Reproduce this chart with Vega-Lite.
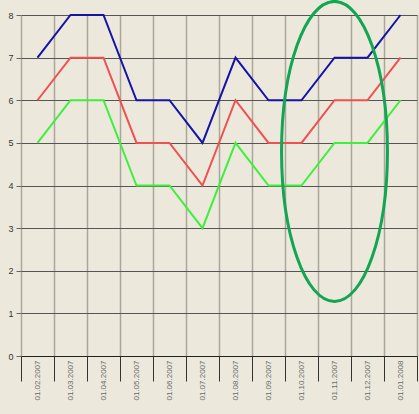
{
"$schema": "https://vega.github.io/schema/vega-lite/v6.json",
"width": 396,
"height": 341,
"autosize": {"type": "none"},
"padding": {"left": 21, "top": 15, "right": 2, "bottom": 58},
"background": "#ECE9DC",
"config": {"view": {"stroke": null}, "font": "Liberation Sans"},
"layer": [
{
"data": {"values": [
{"date": "01.02.2007", "series": "blue", "value": 7},
{"date": "01.03.2007", "series": "blue", "value": 8},
{"date": "01.04.2007", "series": "blue", "value": 8},
{"date": "01.05.2007", "series": "blue", "value": 6},
{"date": "01.06.2007", "series": "blue", "value": 6},
{"date": "01.07.2007", "series": "blue", "value": 5},
{"date": "01.08.2007", "series": "blue", "value": 7},
{"date": "01.09.2007", "series": "blue", "value": 6},
{"date": "01.10.2007", "series": "blue", "value": 6},
{"date": "01.11.2007", "series": "blue", "value": 7},
{"date": "01.12.2007", "series": "blue", "value": 7},
{"date": "01.01.2008", "series": "blue", "value": 8},
{"date": "01.02.2007", "series": "red", "value": 6},
{"date": "01.03.2007", "series": "red", "value": 7},
{"date": "01.04.2007", "series": "red", "value": 7},
{"date": "01.05.2007", "series": "red", "value": 5},
{"date": "01.06.2007", "series": "red", "value": 5},
{"date": "01.07.2007", "series": "red", "value": 4},
{"date": "01.08.2007", "series": "red", "value": 6},
{"date": "01.09.2007", "series": "red", "value": 5},
{"date": "01.10.2007", "series": "red", "value": 5},
{"date": "01.11.2007", "series": "red", "value": 6},
{"date": "01.12.2007", "series": "red", "value": 6},
{"date": "01.01.2008", "series": "red", "value": 7},
{"date": "01.02.2007", "series": "green", "value": 5},
{"date": "01.03.2007", "series": "green", "value": 6},
{"date": "01.04.2007", "series": "green", "value": 6},
{"date": "01.05.2007", "series": "green", "value": 4},
{"date": "01.06.2007", "series": "green", "value": 4},
{"date": "01.07.2007", "series": "green", "value": 3},
{"date": "01.08.2007", "series": "green", "value": 5},
{"date": "01.09.2007", "series": "green", "value": 4},
{"date": "01.10.2007", "series": "green", "value": 4},
{"date": "01.11.2007", "series": "green", "value": 5},
{"date": "01.12.2007", "series": "green", "value": 5},
{"date": "01.01.2008", "series": "green", "value": 6}
]},
"mark": {"type": "line", "strokeWidth": 2},
"encoding": {
"x": {"field": "date", "type": "ordinal",
"sort": ["01.02.2007","01.03.2007","01.04.2007","01.05.2007","01.06.2007","01.07.2007","01.08.2007","01.09.2007","01.10.2007","01.11.2007","01.12.2007","01.01.2008"],
"scale": {"paddingInner": 0, "paddingOuter": 0},
"axis": {"title": null, "tickBand": "extent", "grid": true, "gridColor": "#aaa69c", "gridWidth": 1.5, "tickSize": 25, "tickColor": "#333333", "labelAngle": 270, "labelPadding": -21, "labelFontSize": 8, "labelColor": "#6a6a6a", "labelFont": "Liberation Sans", "domainColor": "#222222"}},
"y": {"field": "value", "type": "quantitative",
"scale": {"domain": [0, 8], "nice": false},
"axis": {"title": null, "values": [0,1,2,3,4,5,6,7,8], "grid": true, "gridColor": "#555555", "tickSize": 5, "tickColor": "#666666", "labelPadding": 3, "labelFontSize": 9, "labelColor": "#333333", "labelFont": "Liberation Sans", "domain": false}},
"color": {"field": "series", "type": "nominal",
"scale": {"domain": ["blue", "red", "green"], "range": ["#1414A8", "#F05050", "#3CF03C"]},
"legend": null}
}
},
{
"data": {"values": [{"date": "01.11.2007", "value": 4.8}]},
"mark": {"type": "point", "shape": "M 0 -1 C 0.195 -1 0.353 -0.552 0.353 0 C 0.353 0.552 0.195 1 0 1 C -0.195 1 -0.353 0.552 -0.353 0 C -0.353 -0.552 -0.195 -1 0 -1 Z", "size": 90000, "filled": false, "stroke": "#12A552", "strokeWidth": 3, "opacity": 1},
"encoding": {
"x": {"field": "date", "type": "ordinal",
"sort": ["01.02.2007","01.03.2007","01.04.2007","01.05.2007","01.06.2007","01.07.2007","01.08.2007","01.09.2007","01.10.2007","01.11.2007","01.12.2007","01.01.2008"]},
"y": {"field": "value", "type": "quantitative"}
}
}
]
}
